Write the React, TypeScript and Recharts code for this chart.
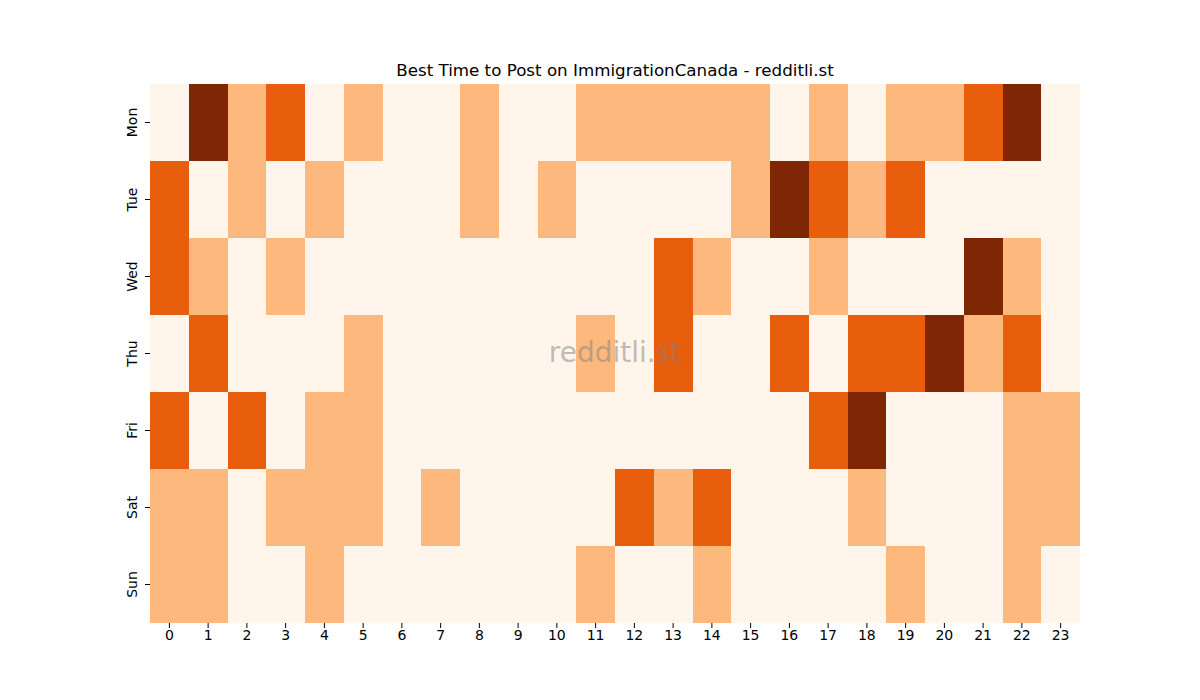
import { Bar, BarChart, Cell, XAxis, YAxis } from "recharts";

const hours = ["0", "1", "2", "3", "4", "5", "6", "7", "8", "9", "10", "11", "12", "13", "14", "15", "16", "17", "18", "19", "20", "21", "22", "23"];
const days = ["Mon", "Tue", "Wed", "Thu", "Fri", "Sat", "Sun"];

// activity level per hour (0..3), one list per weekday
const mon = [0, 3, 1, 2, 0, 1, 0, 0, 1, 0, 0, 1, 1, 1, 1, 1, 0, 1, 0, 1, 1, 2, 3, 0];
const tue = [2, 0, 1, 0, 1, 0, 0, 0, 1, 0, 1, 0, 0, 0, 0, 1, 3, 2, 1, 2, 0, 0, 0, 0];
const wed = [2, 1, 0, 1, 0, 0, 0, 0, 0, 0, 0, 0, 0, 2, 1, 0, 0, 1, 0, 0, 0, 3, 1, 0];
const thu = [0, 2, 0, 0, 0, 1, 0, 0, 0, 0, 0, 1, 0, 2, 0, 0, 2, 0, 2, 2, 3, 1, 2, 0];
const fri = [2, 0, 2, 0, 1, 1, 0, 0, 0, 0, 0, 0, 0, 0, 0, 0, 0, 2, 3, 0, 0, 0, 1, 1];
const sat = [1, 1, 0, 1, 1, 1, 0, 1, 0, 0, 0, 0, 2, 1, 2, 0, 0, 0, 1, 0, 0, 0, 1, 1];
const sun = [1, 1, 0, 0, 1, 0, 0, 0, 0, 0, 0, 1, 0, 0, 1, 0, 0, 0, 0, 1, 0, 0, 1, 0];

const levels: Record<string, number[]> = { Mon: mon, Tue: tue, Wed: wed, Thu: thu, Fri: fri, Sat: sat, Sun: sun };
const palette = ["#fff5eb", "#fdb97d", "#e95e0d", "#7f2704"];

// every cell is one unit tall; stacked bottom-up Sun..Mon
const data = hours.map((h) => {
  const row: Record<string, string | number> = { hour: h };
  for (const d of days) row[d] = 1;
  return row;
});
const stackOrder = [...days].reverse();
const dayTicks = [0.5, 1.5, 2.5, 3.5, 4.5, 5.5, 6.5];

const font = "DejaVu Sans, sans-serif";

function DayTick({ x, y, payload }: any) {
  const label = stackOrder[Math.floor(payload.value)];
  const tx = x - 6;
  return (
    <text
      x={tx}
      y={y}
      transform={`rotate(-90, ${tx}, ${y})`}
      textAnchor="middle"
      fontSize={14}
      fontFamily={font}
      fill="#000"
    >
      {label}
    </text>
  );
}

export default function App() {
  return (
    <div style={{ position: "absolute", left: 0, top: 0, width: 1200, height: 700, background: "#fff" }}>
      <div
        style={{
          position: "absolute",
          left: 150,
          width: 930,
          top: 60,
          textAlign: "center",
          fontFamily: font,
          fontSize: 16.7,
          color: "#000",
        }}
      >
        Best Time to Post on ImmigrationCanada - redditli.st
      </div>
      <BarChart
        width={1200}
        height={700}
        data={data}
        margin={{ top: 84, right: 120, left: 100, bottom: 47 }}
        barCategoryGap={0}
        barGap={0}
      >
        <XAxis
          dataKey="hour"
          axisLine={false}
          tickSize={5}
          tickLine={{ stroke: "#000" }}
          tick={{ fontSize: 14, fontFamily: font, fill: "#000" }}
          height={30}
          interval={0}
        />
        <YAxis
          type="number"
          domain={[0, 7]}
          ticks={dayTicks}
          axisLine={false}
          tickSize={5}
          tickLine={{ stroke: "#000" }}
          tick={<DayTick />}
          width={50}
        />
        {stackOrder.map((d) => (
          <Bar key={d} dataKey={d} stackId="a" isAnimationActive={false} shapeRendering="crispEdges">
            {levels[d].map((lv, i) => (
              <Cell key={i} fill={palette[lv]} />
            ))}
          </Bar>
        ))}
      </BarChart>
      <div
        style={{
          position: "absolute",
          left: 150,
          width: 930,
          top: 336,
          textAlign: "center",
          fontFamily: font,
          fontSize: 28,
          color: "rgba(128,128,128,0.5)",
          pointerEvents: "none",
        }}
      >
        redditli.st
      </div>
    </div>
  );
}
